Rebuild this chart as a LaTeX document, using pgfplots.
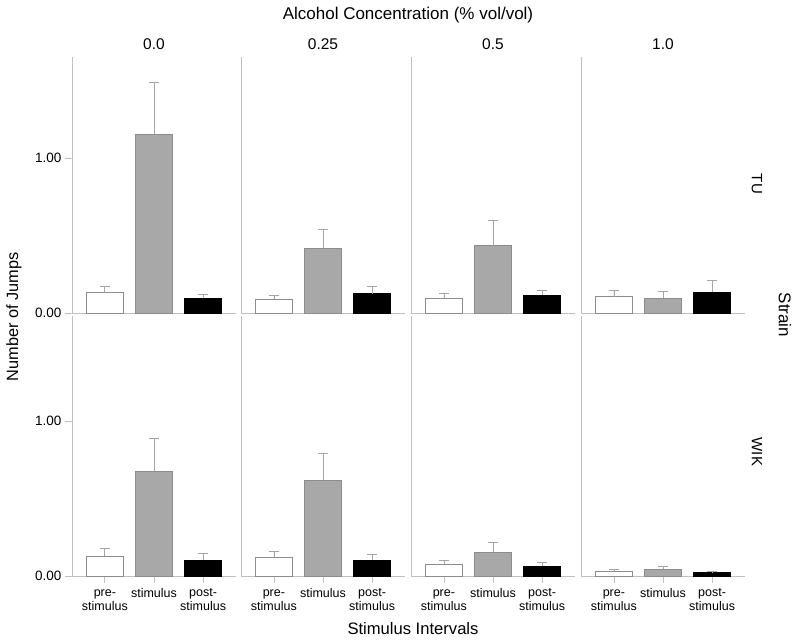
\documentclass[border=0pt]{standalone}
\usepackage{fontspec}
\setmainfont{Liberation Sans}
\usepackage{pgfplots}
\pgfplotsset{compat=1.18}

\definecolor{axgray}{RGB}{192,192,192}
\definecolor{errgray}{RGB}{165,165,165}
\definecolor{bargray}{RGB}{168,168,168}
\definecolor{edgegray}{RGB}{140,140,140}

\pgfplotsset{
  panel/.style={
    scale only axis, width=164pt, anchor=south west,
    xmin=0.33, xmax=3.67, ymin=0,
    axis x line*=bottom, axis y line*=left,
    axis line style={axgray, line width=0.8pt, -},
    tick style={axgray, line width=0.8pt},
    tick align=outside, major tick length=7pt,
    xtick=\empty, ytick=\empty,
    /pgf/number format/assume math mode=true,
    clip=false,
  },
  toprow/.style={height=256pt, ymax=1.652},
  botrow/.style={height=260pt, ymax=1.677,
    xtick={1,2,3},
    xticklabels={{\strut pre-\\stimulus},{\strut stimulus},{\strut post-\\stimulus}},
    x tick label style={align=center, anchor=north, inner sep=2pt, yshift=-3pt,
      font=\fontsize{12.5}{12.5}\selectfont}},
  firstcol/.style={ytick={0,1}, yticklabels={0.00,1.00},
    y tick label style={font=\fontsize{13.5}{15}\selectfont}},
  onebar/.style={ybar, bar width=37pt, bar shift=0pt, line width=0.8pt,
    /pgfplots/error bars/y dir=plus,
    /pgfplots/error bars/y explicit,
    /pgfplots/error bars/error bar style={errgray, line width=0.8pt},
    /pgfplots/error bars/error mark options={rotate=90, errgray, mark size=5pt, line width=0.8pt}},
}

% #1 axis options, then pre, pre err, stimulus, stimulus err, post, post err
\newcommand\panel[7]{%
  \begin{axis}[panel, #1]
    \addplot[onebar, fill=white, draw=edgegray] coordinates {(1,#2) +- (0,#3)};
    \addplot[onebar, fill=bargray, draw=edgegray] coordinates {(2,#4) +- (0,#5)};
    \addplot[onebar, fill=black, draw=black] coordinates {(3,#6) +- (0,#7)};
  \end{axis}}

\begin{document}
\begin{tikzpicture}
\useasboundingbox (0pt,0pt) rectangle (800pt,643pt);

% --- TU row ---
\panel{toprow, firstcol, at={(72pt,330pt)}}{0.13}{0.04}{1.155}{0.335}{0.097}{0.025}
\panel{toprow, at={(241pt,330pt)}}{0.09}{0.025}{0.42}{0.12}{0.125}{0.045}
\panel{toprow, at={(411pt,330pt)}}{0.095}{0.03}{0.435}{0.16}{0.115}{0.03}
\panel{toprow, at={(581pt,330pt)}}{0.105}{0.04}{0.097}{0.043}{0.135}{0.075}

% --- WIK row ---
\panel{botrow, firstcol, at={(72pt,67pt)}}{0.127}{0.049}{0.677}{0.211}{0.103}{0.045}
\panel{botrow, at={(241pt,67pt)}}{0.12}{0.039}{0.619}{0.175}{0.103}{0.037}
\panel{botrow, at={(411pt,67pt)}}{0.075}{0.028}{0.155}{0.062}{0.062}{0.024}
\panel{botrow, at={(581pt,67pt)}}{0.03}{0.011}{0.045}{0.017}{0.0215}{0.0105}

% --- titles ---
\node[font=\fontsize{17}{20}\selectfont] at (408pt,628pt) {Alcohol Concentration (\% vol/vol)};
\node[font=\fontsize{15.5}{18}\selectfont] at (154pt,599pt) {0.0};
\node[font=\fontsize{15.5}{18}\selectfont] at (323pt,599pt) {0.25};
\node[font=\fontsize{15.5}{18}\selectfont] at (493pt,599pt) {0.5};
\node[font=\fontsize{15.5}{18}\selectfont] at (663pt,599pt) {1.0};
\node[rotate=90, font=\fontsize{16.3}{19}\selectfont] at (14pt,326pt) {Number of Jumps};
\node[font=\fontsize{16.6}{19}\selectfont] at (413pt,14pt) {Stimulus Intervals};
\node[rotate=-90, font=\fontsize{15}{18}\selectfont] at (757pt,459pt) {TU};
\node[rotate=-90, font=\fontsize{15}{18}\selectfont] at (757pt,191pt) {WIK};
\node[rotate=-90, font=\fontsize{17}{20}\selectfont] at (785pt,328pt) {Strain};
\end{tikzpicture}
\end{document}
